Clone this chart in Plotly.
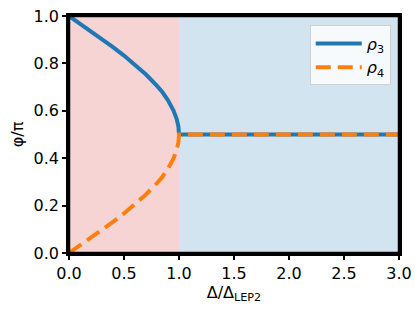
import plotly.graph_objects as go

# Data
delta = [0.0, 0.1, 0.2, 0.3, 0.4, 0.5, 0.6, 0.7, 0.8, 0.85, 0.9, 0.95, 0.98, 0.995, 1.0, 1.5, 2.0, 2.5, 3.0]
rho3 = [1.0, 0.968, 0.936, 0.903, 0.869, 0.833, 0.795, 0.753, 0.705, 0.678, 0.644, 0.601, 0.564, 0.532, 0.5, 0.5, 0.5, 0.5, 0.5]
rho4 = [0.0, 0.032, 0.064, 0.097, 0.131, 0.167, 0.205, 0.247, 0.295, 0.322, 0.356, 0.399, 0.436, 0.468, 0.5, 0.5, 0.5, 0.5, 0.5]
region_red = [0.0, 1.0]
region_blue = [1.0, 3.0]
x_ticks = [0.0, 0.5, 1.0, 1.5, 2.0, 2.5, 3.0]
y_ticks = [0.0, 0.2, 0.4, 0.6, 0.8, 1.0]

font = "DejaVu Sans, Liberation Sans, sans-serif"

fig = go.Figure()
fig.add_trace(go.Scatter(x=delta, y=rho3, mode="lines", name="<i>ρ</i><sub>3</sub>",
                         line=dict(color="#1f77b4", width=4)))
fig.add_trace(go.Scatter(x=delta, y=rho4, mode="lines", name="<i>ρ</i><sub>4</sub>",
                         line=dict(color="#ff7f0e", width=4, dash="15px,7px")))

fig.add_vrect(x0=region_red[0], x1=region_red[1], fillcolor="rgba(214,39,40,0.2)",
              line_width=0, layer="below")
fig.add_vrect(x0=region_blue[0], x1=region_blue[1], fillcolor="rgba(31,119,180,0.2)",
              line_width=0, layer="below")
# axes frame (spines) on all four sides
fig.add_shape(type="rect", xref="x domain", yref="y domain", x0=0, x1=1, y0=0, y1=1,
              line=dict(color="black", width=2.5), fillcolor="rgba(0,0,0,0)", layer="above")

axis_common = dict(showgrid=False, zeroline=False, showline=True, linecolor="black",
                   linewidth=2.5, mirror=True, ticks="outside", ticklen=4, tickwidth=1.5,
                   tickcolor="black", automargin=False,
                   tickfont=dict(size=16, color="black", family=font))

fig.update_xaxes(range=[0, 3], tickvals=x_ticks, ticktext=[f"{v:.1f}" for v in x_ticks],
                 title=dict(text="Δ/Δ<sub>LEP2</sub>", font=dict(size=16, color="black", family=font), standoff=0),
                 **axis_common)
fig.update_yaxes(range=[0, 1], tickvals=y_ticks, ticktext=[f"{v:.1f}" for v in y_ticks],
                 title=dict(text="φ/π", font=dict(size=16, color="black", family=font), standoff=6),
                 **axis_common)

fig.update_layout(
    width=415, height=311,
    margin=dict(l=69, r=16, t=16, b=58, autoexpand=False),
    paper_bgcolor="white", plot_bgcolor="white",
    font=dict(family=font, size=16, color="black"),
    legend=dict(x=0.975, y=0.96, xanchor="right", yanchor="top",
                bgcolor="rgba(255,255,255,0.8)", bordercolor="#d0d0d0", borderwidth=1,
                font=dict(size=16, color="black", family=font), itemwidth=46, tracegroupgap=0),
)

fig.write_html("out.html", config={"displayModeBar": False},
               post_script="document.body.style.margin='0px';document.body.style.overflow='hidden';"
                           "document.documentElement.style.overflow='hidden';")
